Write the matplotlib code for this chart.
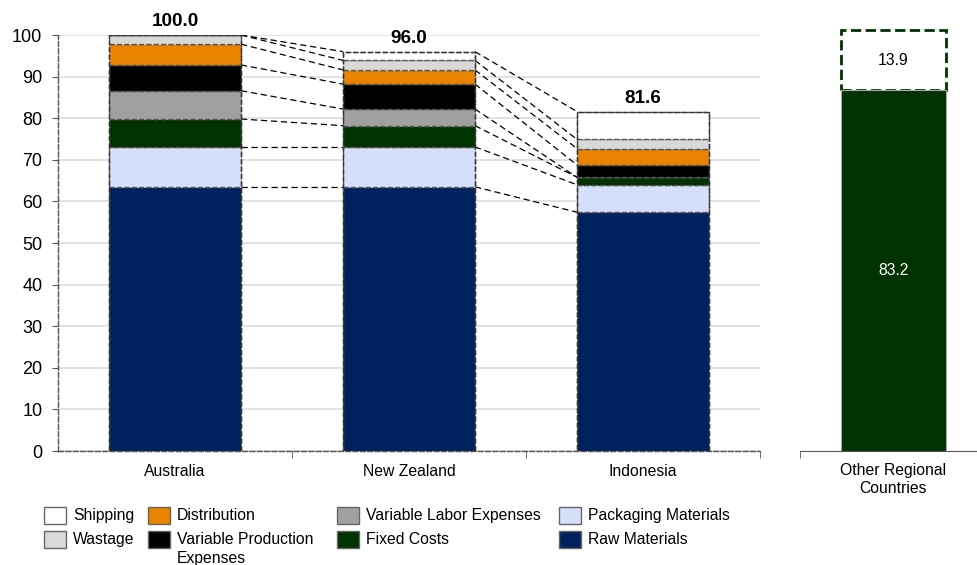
import matplotlib
matplotlib.use("Agg")
import matplotlib.pyplot as plt
import matplotlib.patches as mpatches
import numpy as np

plt.rcParams['font.family'] = ['Liberation Sans', 'DejaVu Sans']

# categories and stacked cost components (bottom to top)
countries = ["Australia", "New Zealand", "Indonesia"]
components = ["Raw Materials", "Packaging Materials", "Fixed Costs",
              "Variable Labor Expenses", "Variable Production\nExpenses",
              "Distribution", "Wastage", "Shipping"]
raw_materials = [63.5, 63.5, 57.4]
packaging = [9.6, 9.6, 6.6]
fixed_costs = [6.7, 5.1, 1.8]
variable_labor = [6.8, 4.0, 0.0]
variable_production = [6.2, 6.0, 2.95]
distribution = [5.0, 3.4, 3.95]
wastage = [2.2, 2.3, 2.2]
shipping = [0.0, 2.1, 6.7]

other_label = "Other Regional\nCountries"
other_base = 83.2
other_gap = 13.9

colors = {
    "Raw Materials": "#00205E",
    "Packaging Materials": "#D6E0FA",
    "Fixed Costs": "#003300",
    "Variable Labor Expenses": "#A0A0A0",
    "Variable Production\nExpenses": "#000000",
    "Distribution": "#E98300",
    "Wastage": "#D9D9D9",
    "Shipping": "#FFFFFF",
}

series = [raw_materials, packaging, fixed_costs, variable_labor,
          variable_production, distribution, wastage, shipping]

FS = 11.3
fig = plt.figure(figsize=(9.78, 5.65), dpi=100)
W, H = 978, 565
ax = fig.add_axes([58 / W, (H - 451) / H, 702 / W, 416 / H])
ax2 = fig.add_axes([800 / W, (H - 451) / H, 187 / W, 416 / H])

x = np.arange(len(countries))
bw = 0.564
bottom = np.zeros(len(countries))
levels = []
for name, vals in zip(components, series):
    vals = np.array(vals)
    ax.bar(x, vals, bw, bottom=bottom, color=colors[name],
           edgecolor="#555555", linestyle="--", linewidth=1, zorder=3)
    bottom = bottom + vals
    levels.append(bottom.copy())

totals = bottom
# dashed outline around whole stack
ax.bar(x, totals, bw, fill=False, edgecolor="#333333", linestyle="--",
       linewidth=1, zorder=4)

# connector lines between adjacent bars
for i in range(len(countries) - 1):
    for lv in levels:
        ax.plot([x[i] + bw / 2, x[i + 1] - bw / 2], [lv[i], lv[i + 1]],
                color="black", linestyle=(0, (5, 3)), linewidth=0.9, zorder=2)

for xi, t in zip(x, totals):
    ax.annotate(f"{t:.1f}", (xi, t), xytext=(0, 9.5), textcoords="offset points",
                ha="center", va="center", fontsize=13.6, fontweight="bold")

ax.set_xlim(-0.5, 2.5)
ax.set_ylim(0, 100)
ax.set_yticks(np.arange(0, 101, 10))
ax.yaxis.grid(True, color="#DDDDDD", linewidth=1.2, zorder=0)
ax.set_axisbelow(True)
ax.tick_params(axis="y", labelsize=13, length=4.3, color="#555555", pad=7)
ax.set_xticks(x)
ax.set_xticklabels(countries, fontsize=FS)
ax.set_xticks([0.5, 1.5, 2.5], minor=True)
ax.tick_params(axis="x", which="major", length=0, pad=9)
ax.tick_params(axis="x", which="minor", length=5, color="#555555")
for side in ["top", "right"]:
    ax.spines[side].set_visible(False)
for side in ["left", "bottom"]:
    ax.spines[side].set_linestyle("--")
    ax.spines[side].set_color("#555555")
    ax.spines[side].set_linewidth(1)

# right panel
ax2.bar([0], [other_gap], 0.56, bottom=[other_base], color="white",
        edgecolor="#003300", linestyle="--", linewidth=2, zorder=3,
        clip_on=False)
ax2.bar([0], [other_base], 0.56, color="#003300", edgecolor="#AAAAAA",
        linewidth=0.8, zorder=4)
ax2.text(0, other_base / 2, f"{other_base:.1f}", ha="center", va="center",
         color="white", fontsize=FS, zorder=5)
ax2.text(0, other_base + other_gap / 2, f"{other_gap:.1f}", ha="center",
         va="center", color="black", fontsize=FS, zorder=5)
ax2.set_xlim(-0.5, 0.5)
ax2.set_ylim(0, 96)
ax2.set_yticks([])
ax2.set_xticks([0])
ax2.set_xticklabels([other_label], fontsize=FS)
ax2.set_xticks([-0.5], minor=True)
ax2.tick_params(axis="x", which="major", length=0, pad=9)
ax2.tick_params(axis="x", which="minor", length=5, color="#555555")
for side in ["top", "right", "left"]:
    ax2.spines[side].set_visible(False)
ax2.spines["bottom"].set_color("#555555")

# legend, laid out in 4 columns x 2 rows like the original
legend_cols = [["Shipping", "Wastage"],
               ["Distribution", "Variable Production\nExpenses"],
               ["Variable Labor Expenses", "Fixed Costs"],
               ["Packaging Materials", "Raw Materials"]]
col_x = [44, 148, 337, 559]
row_y = [507, 531]
for cx, names in zip(col_x, legend_cols):
    for ry, name in zip(row_y, names):
        fig.add_artist(mpatches.Rectangle((cx / W, 1 - (ry + 17) / H), 22 / W, 17 / H,
                                          transform=fig.transFigure,
                                          facecolor=colors[name],
                                          edgecolor="#666666", linewidth=1))
        fig.text((cx + 29) / W, 1 - (ry + 8.5) / H, name.split("\n")[0],
                 ha="left", va="center", fontsize=FS)
        if "\n" in name:
            fig.text((cx + 29) / W, 1 - (ry + 27.5) / H, name.split("\n")[1],
                     ha="left", va="center", fontsize=FS)

fig.savefig("out.png", dpi=100)
